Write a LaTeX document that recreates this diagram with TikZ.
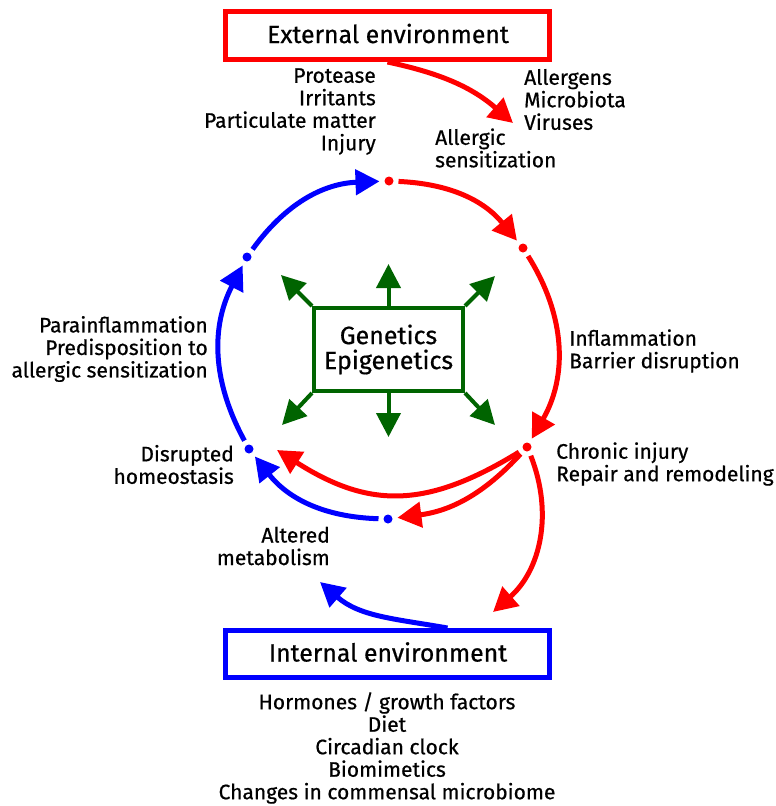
\documentclass[tikz,border=0pt]{standalone}
\usepackage{fontspec}
\setmainfont{Fira Sans}[FakeBold=0.6]
\usetikzlibrary{arrows.meta}
\definecolor{myred}{RGB}{255,0,0}
\definecolor{myblue}{RGB}{0,0,255}
\definecolor{mygreen}{RGB}{0,100,0}
\begin{document}
\begin{tikzpicture}[x=1pt,y=1pt,
  lbl/.style={inner sep=0pt, font=\fontsize{21}{22.5}\selectfont},
  ttl/.style={inner sep=0pt, font=\fontsize{24.8}{26}\selectfont},
  envbox/.style={draw, line width=5pt, minimum width=324pt, minimum height=48pt, inner sep=0pt},
  gbox/.style={draw=mygreen, line width=4pt, minimum width=149pt, minimum height=83pt, inner sep=0pt, align=center, font=\fontsize{25}{25}\selectfont},
  dot/.style={circle, fill, inner sep=0pt, minimum size=9pt, outer sep=5pt},
  arr/.style={line width=5pt, -{Triangle[length=24pt,width=25pt]}},
  rarr/.style={arr, draw=myred},
  barr/.style={arr, draw=myblue},
  garr/.style={line width=4pt, draw=mygreen, -{Triangle[length=24pt,width=24pt]}}
]
\useasboundingbox[fill=white] (0,0) rectangle (776,-806);

% boxes
\node[envbox, draw=myred] (extbox) at (387.5,-35.5) {};
\node[ttl] (exttext) at (388,-33.5) {External environment};
\node[envbox, draw=myblue, minimum height=47pt] (intbox) at (387.5,-654) {};
\node[ttl] (inttext) at (388,-652) {Internal environment};
\node[gbox] (gbox) at (388.5,-349.5) {Genetics\\Epigenetics};

% dots on the cycle
\node[dot, myred]  (T)  at (389,-181) {};
\node[dot, myred]  (R1) at (523,-248) {};
\node[dot, myred]  (R2) at (527,-447) {};
\node[dot, myblue] (B)  at (388,-519) {};
\node[dot, myblue] (L2) at (249,-449) {};
\node[dot, myblue] (L1) at (247,-257) {};

% free ends
\coordinate (redA) at (513,-123);
\coordinate (redL) at (277,-450);
\coordinate (redI) at (493,-612);
\coordinate (blueM) at (320,-582);

% cycle arcs
\draw[barr] (L2) to[bend left=28] (L1);
\draw[barr] (L1) to[bend left=26] (T);
\draw[rarr] (T) to[bend left=24] (R1);
\draw[rarr] (R1) to[bend left=31] (R2);
\draw[barr] (B) to[bend left=25] (L2);
\draw[rarr] (R2) to[bend left=32, looseness=1.15] (redL);
\draw[rarr] (R2) to[bend left=20] (B);
\draw[rarr] (R2) to[bend left=35] (redI);
\draw[barr] ([xshift=60pt]intbox.north) to[out=170, in=-41] (blueM);
\draw[rarr] (extbox.south) to[out=-12, in=139] (redA);

% green arrows
\draw[garr] (gbox.north) -- ++(0,42);
\draw[garr] (gbox.south) -- ++(0,-44);
\draw[garr] (gbox.north west) -- ++(-31,31);
\draw[garr] (gbox.south west) -- ++(-30,-32);
\draw[garr] (gbox.north east) -- ++(30,30);
\draw[garr] (gbox.south east) -- ++(30,-32);

% labels
\node[lbl, align=right, anchor=east] (prot) at (376,-111.5) {Protease\\Irritants\\Particulate matter\\Injury};
\node[lbl, align=left, anchor=west] (allg) at (524,-99.5) {Allergens\\Microbiota\\Viruses};
\node[lbl, align=left, anchor=west] (sens) at (435,-148) {Allergic\\sensitization};
\node[lbl, align=left, anchor=west] (infl) at (569,-351) {Inflammation\\Barrier disruption};
\node[lbl, align=left, anchor=west] (chron) at (556,-464) {Chronic injury\\Repair and remodeling};
\node[lbl, align=right, anchor=east] (para) at (208,-349) {Parainflammation\\Predisposition to\\allergic sensitization};
\node[lbl, align=right, anchor=east] (disr) at (234,-464.5) {Disrupted\\homeostasis};
\node[lbl, align=right, anchor=east] (alt) at (330,-546) {Altered\\metabolism};
\node[lbl, align=center] (horm) at (387,-748) {Hormones / growth factors\\Diet\\Circadian clock\\Biomimetics\\Changes in commensal microbiome};
\end{tikzpicture}
\end{document}
